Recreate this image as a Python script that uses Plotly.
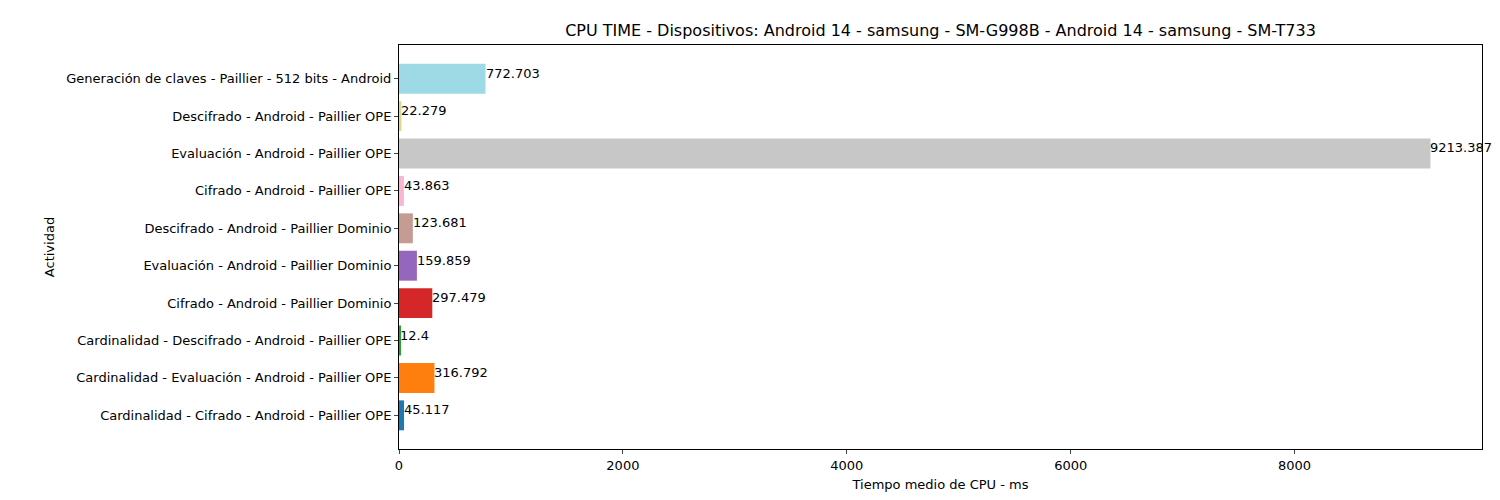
import plotly.graph_objects as go

activities = [
    "Cardinalidad - Cifrado - Android - Paillier OPE",
    "Cardinalidad - Evaluación - Android - Paillier OPE",
    "Cardinalidad - Descifrado - Android - Paillier OPE",
    "Cifrado - Android - Paillier Dominio",
    "Evaluación - Android - Paillier Dominio",
    "Descifrado - Android - Paillier Dominio",
    "Cifrado - Android - Paillier OPE",
    "Evaluación - Android - Paillier OPE",
    "Descifrado - Android - Paillier OPE",
    "Generación de claves - Paillier - 512 bits - Android",
]
cpu_ms = [45.117, 316.792, 12.4, 297.479, 159.859, 123.681, 43.863, 9213.387, 22.279, 772.703]
colors = ["#1f77b4", "#ff7f0e", "#2ca02c", "#d62728", "#9467bd",
          "#c49c94", "#f7b6d2", "#c7c7c7", "#dbdb8d", "#9edae5"]

font = dict(family="DejaVu Sans", size=13, color="black")

fig = go.Figure(go.Bar(
    y=list(range(len(activities))), x=cpu_ms, orientation="h",
    marker=dict(color=colors, line=dict(width=0)), width=0.8,
))

for i, v in enumerate(cpu_ms):
    fig.add_annotation(x=v, y=i, text=str(v), showarrow=False,
                       xanchor="left", yanchor="bottom", xshift=-2, yshift=-4,
                       font=font)

fig.update_layout(
    width=1500, height=500,
    plot_bgcolor="white", paper_bgcolor="white",
    margin=dict(l=391, r=26, t=37, b=59),
    font=font,
    showlegend=False,
    title=dict(text="CPU TIME - Dispositivos: Android 14 - samsung - SM-G998B - Android 14 - samsung - SM-T733",
               x=0.5 * (391 + 1474) / 1500, xanchor="center", y=0.955, yanchor="middle",
               font=dict(family="DejaVu Sans", size=16, color="black")),
)
fig.update_xaxes(range=[0, 9674], tickvals=[0, 2000, 4000, 6000, 8000],
                 showgrid=False, zeroline=False, showline=True, linecolor="black",
                 mirror=True, ticks="outside", ticklen=4, automargin=False,
                 title=dict(text="Tiempo medio de CPU - ms", font=font, standoff=8))
fig.update_yaxes(range=[-0.9, 9.9], tickvals=list(range(len(activities))), ticktext=activities,
                 showgrid=False, zeroline=False, showline=True, linecolor="black",
                 mirror=True, ticks="outside", ticklen=4, automargin=False,
                 title=dict(text="Actividad", font=font, standoff=8))

fig.write_html("out.html")
